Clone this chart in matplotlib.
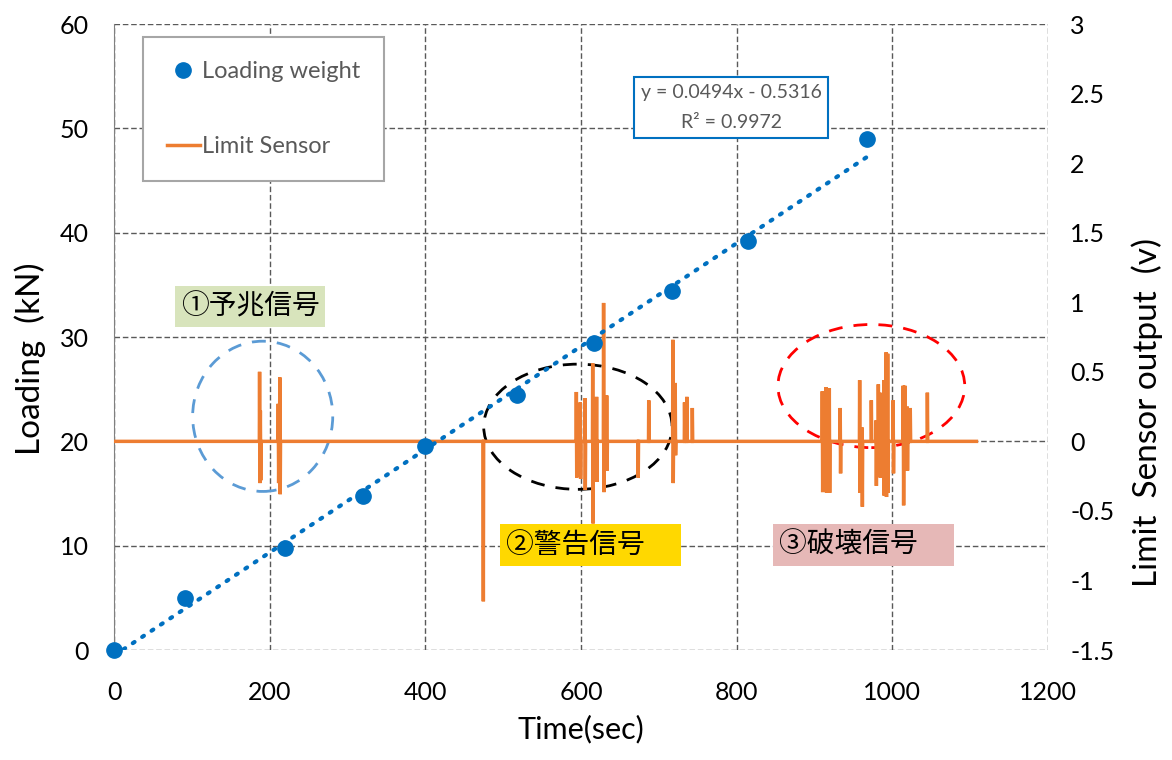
import numpy as np
import matplotlib.pyplot as plt
from matplotlib.patches import Ellipse
from matplotlib.lines import Line2D

plt.rcParams['font.family'] = ['Lato', 'Noto Sans CJK JP', 'DejaVu Sans']

# Loading weight measurements
time_s = [0, 91, 220, 320, 400, 518, 617, 717, 815, 967]
load_kn = [0.0, 5.0, 9.8, 14.8, 19.6, 24.4, 29.4, 34.4, 39.2, 49.0]

# Linear trend from the spreadsheet fit
slope = 0.0494
intercept = -0.5316
r2 = 0.9972
trend_end = 968

# Limit sensor spikes: time, positive peak, negative peak (V)
spike_t = [187, 188, 211, 213,
           474, 594, 599, 605, 615, 620, 629, 633, 673, 687, 718, 721, 733, 736, 743,
           910, 915, 919, 933, 958, 961, 973, 979, 982, 984, 989, 992, 994, 1001,
           1014, 1016, 1019, 1023, 1045]
spike_hi = [0.50, 0.22, 0.27, 0.46,
            0.0, 0.355, 0.28, 0.31, 0.56, 0.32, 0.995, 0.33, 0.0, 0.295, 0.73, 0.42, 0.28, 0.32, 0.24,
            0.36, 0.39, 0.38, 0.24, 0.44, 0.10, 0.295, 0.15, 0.41, 0.35, 0.44, 0.64, 0.63, 0.295,
            0.40, 0.40, 0.25, 0.24, 0.35]
spike_lo = [-0.30, -0.28, -0.30, -0.38,
            -1.15, -0.26, -0.27, -0.35, -0.59, -0.29, -0.365, -0.21, -0.26, 0.0, -0.30, -0.10, 0.0, 0.0, 0.0,
            -0.365, -0.37, -0.37, -0.23, -0.37, -0.47, 0.0, -0.32, 0.0, -0.26, -0.39, -0.40, -0.37, -0.23,
            -0.46, 0.0, -0.21, 0.0, 0.0]
sensor_end = 1108

# build the sensor trace: flat zero with a short up/down swing at each spike
st = [0.0]
sv = [0.0]
for t, hi, lo in zip(spike_t, spike_hi, spike_lo):
    st += [t - 0.3, t, t + 0.5, t + 0.9]
    sv += [0.0, hi, lo, 0.0]
st.append(sensor_end)
sv.append(0.0)

BLUE = '#0070C0'
ORANGE = '#ED7D31'
GRID = '#595959'

fig = plt.figure(figsize=(11.72, 7.6), dpi=100)
ax1 = fig.add_axes([0.0973, 0.1447, 0.7969, 0.8237])
ax2 = ax1.twinx()

# left axis: limits, ticks and grid
ax1.set_xlim(0, 1200)
ax1.set_ylim(0, 60)
ax1.set_xticks(range(0, 1201, 200))
ax1.set_yticks(range(0, 61, 10))
ax1.tick_params(axis='both', length=0, labelsize=18)
ax1.tick_params(axis='x', pad=22)
ax1.tick_params(axis='y', pad=18)
ax1.grid(True, color=GRID, linestyle=(0, (4, 2)), lw=1)
ax1.set_xlabel('Time(sec)', fontsize=22, labelpad=8)
ax1.set_ylabel('Loading  (kN)', fontsize=24)
ax1.yaxis.set_label_coords(-0.073, 0.465)

# right axis: sensor output
ax2.set_ylim(-1.5, 3)
ax2.set_yticks(np.arange(-1.5, 3.01, 0.5))
ax2.set_yticklabels(['-1.5', '-1', '-0.5', '0', '0.5', '1', '1.5', '2', '2.5', '3'])
ax2.tick_params(axis='y', length=0, pad=16, labelsize=18)
ax2.set_ylabel('Limit  Sensor output  (v)', fontsize=24, rotation=90)
ax2.yaxis.set_label_coords(1.089, 0.38)

for a in (ax1, ax2):
    for side in ('top', 'right', 'bottom'):
        a.spines[side].set_visible(False)
ax2.spines['left'].set_visible(False)
ax1.spines['left'].set_color('#808080')

ax2.plot(st, sv, color=ORANGE, lw=2.5, solid_joinstyle='miter')

# loading data drawn in kN coordinates so it sits above the sensor trace
kn = ax1.transData
tx = np.array([0, trend_end])
ax2.plot(tx, slope * tx + intercept, color=BLUE, lw=3, transform=kn,
         linestyle=(0, (0.5, 2.2)), dash_capstyle='round')
ax2.plot(time_s, load_kn, 'o', color=BLUE, ms=11, ls='none', transform=kn,
         clip_on=False)

# circled regions
ax2.add_patch(Ellipse((191, 22.4), 180, 14.4, fill=False, ec='#5B9BD5',
                      lw=2, ls=(0, (5, 4)), transform=kn))
ax2.add_patch(Ellipse((596, 21.4), 242, 12.0, fill=False, ec='black',
                      lw=2, ls=(0, (5, 4)), transform=kn))
ax2.add_patch(Ellipse((973, 25.3), 240, 11.8, fill=False, ec='#FF0000',
                      lw=2, ls=(0, (5, 4)), transform=kn))
ax2.set_ylim(-1.5, 3)
ax1.set_xlim(0, 1200)

# signal labels
jp = ['Noto Sans CJK JP', 'DejaVu Sans']
ax2.text(175, 32.9, '①予兆信号', fontsize=20, family=jp, ha='center', va='center',
         transform=kn, bbox=dict(boxstyle='square,pad=0.2', fc='#D8E4BC', ec='none'))
ax2.text(503, 10.07, '②警告信号     ', fontsize=20, family=jp, ha='left', va='center',
         transform=kn, bbox=dict(boxstyle='square,pad=0.2', fc='#FFD800', ec='none'))
ax2.text(854, 10.07, '③破壊信号     ', fontsize=20, family=jp, ha='left', va='center',
         transform=kn, bbox=dict(boxstyle='square,pad=0.2', fc='#E6B8B7', ec='none'))

# trendline equation
ax2.text(793, 52.0, f'y = {slope}x - {abs(intercept)}\nR² = {r2}', fontsize=14,
         color='#595959', ha='center', va='center', linespacing=1.9, transform=kn,
         bbox=dict(boxstyle='square,pad=0.35', fc='white', ec=BLUE, lw=1.5))

handles = [Line2D([], [], marker='o', color=BLUE, ls='none', ms=11),
           Line2D([], [], color=ORANGE, lw=2.5)]
leg = ax2.legend(handles, ['Loading weight', 'Limit Sensor'], loc='upper left',
                 bbox_to_anchor=(0.031, 0.979), borderaxespad=0, fontsize=17,
                 labelspacing=2.3, borderpad=1.0, handlelength=1.4, handletextpad=0.12,
                 fancybox=False, framealpha=1, edgecolor='#A6A6A6')
for txt in leg.get_texts():
    txt.set_color('#595959')
leg.get_frame().set_linewidth(1.5)

fig.savefig('out.png', dpi=100)
